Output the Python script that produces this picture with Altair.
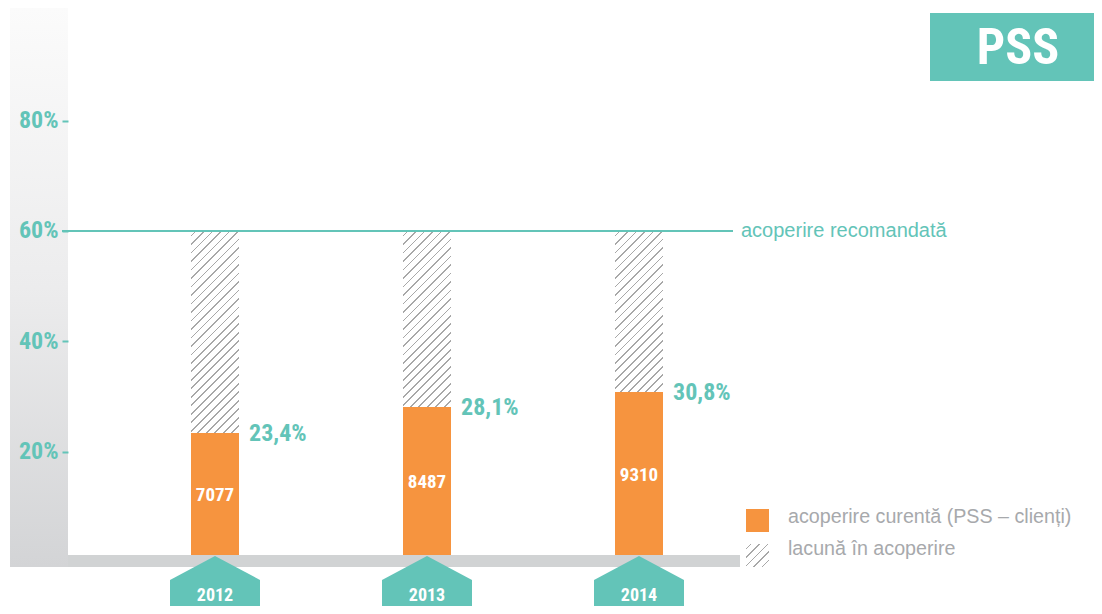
import math
import altair as alt
import pandas as pd

# ---------------- data ----------------
years = ["2012", "2013", "2014"]
coverage_pct = [23.4, 28.1, 30.8]          # current coverage (% of target)
clients = [7077, 8487, 9310]               # PSS clients
recommended_pct = 60                        # recommended coverage
y_ticks = [20, 40, 60, 80]
pct_labels = ["23,4%", "28,1%", "30,8%"]
recommended_label = "acoperire recomandată"
legend_labels = ["acoperire curentă (PSS – clienți)", "lacună în acoperire"]
badge_text = "PSS"

df = pd.DataFrame({
    "year": years,
    "pct": coverage_pct,
    "clients": [str(c) for c in clients],
    "label": pct_labels,
    "rec": [recommended_pct] * len(years),
})

# ---------------- style ----------------
TEAL = "#63C4B8"
ORANGE = "#F6943F"
BAND = "#D1D3D4"
LEG_TXT = "#A7A9AC"
NARROW = "Roboto Condensed, Liberation Sans Narrow, Roboto, sans-serif"
REG = "Liberation Sans, Arial, sans-serif"

W, H = 1086, 598
Y0 = 554.0           # pixel of 0 %
PX_PER = 5.517       # pixels per percentage point
y_scale = alt.Scale(domain=[0, 80], range=[Y0, Y0 - 80 * PX_PER], nice=False, zero=True)
x_scale = alt.Scale(domain=years, range=[101, 737], paddingInner=0, paddingOuter=0)
BAR_W = 48


def hatch(w, h, period=6.0, lw=1.2, line="#A8A8A8", bg="#FFFFFF"):
    L = (w + h) / math.sqrt(2)
    k = (w + h) / (w * w + h * h)
    stops = [{"offset": 0, "color": bg}]
    pos = period / 2
    while pos + lw < L:
        a = pos / L
        b = (pos + lw) / L
        stops += [
            {"offset": a, "color": bg},
            {"offset": a, "color": line},
            {"offset": b, "color": line},
            {"offset": b, "color": bg},
        ]
        pos += period
    stops.append({"offset": 1, "color": bg})
    return {"gradient": "linear", "x1": 0, "y1": 0, "x2": k * w, "y2": k * h, "stops": stops}


one = alt.Data(values=[{}])
base = alt.Chart(df)
X = alt.X("year:N", scale=x_scale, axis=None)

# left grey gradient band
left_band = alt.Chart(one).mark_rect(
    color={"gradient": "linear", "x1": 0, "y1": 0, "x2": 0, "y2": 1,
           "stops": [{"offset": 0, "color": "#FBFBFB"}, {"offset": 0.5, "color": "#ECECED"},
                     {"offset": 1, "color": "#D3D4D6"}]}
).encode(x=alt.value(2), x2=alt.value(60), y=alt.value(0), y2=alt.value(559))

# orange bars (carry the y axis)
bars = base.mark_bar(width=BAR_W, color=ORANGE).encode(
    x=X,
    y=alt.Y("pct:Q", scale=y_scale,
            axis=alt.Axis(values=y_ticks, labelExpr="datum.value + '%'", title=None,
                          domain=False, grid=False, offset=-60, tickSize=6, tickWidth=2,
                          tickColor=TEAL, labelColor=TEAL, labelFont=NARROW,
                          labelFontWeight="bold", labelFontSize=24, labelPadding=4,
                          zindex=1)),
)

# hatched gap layers (one per bar so the stripe angle stays 45°)
hatched = []
for yr, p in zip(years, coverage_pct):
    hpx = (recommended_pct - p) * PX_PER
    hatched.append(
        base.transform_filter(alt.datum.year == yr)
        .mark_bar(width=BAR_W, color=hatch(BAR_W, hpx))
        .encode(x=X, y=alt.Y("pct:Q", scale=y_scale), y2="rec:Q")
    )

# grey base band
base_band = alt.Chart(one).mark_rect(color=BAND).encode(
    x=alt.value(60), x2=alt.value(732), y=alt.value(547), y2=alt.value(559))

# recommended line + label
rec_df = pd.DataFrame({"rec": [recommended_pct], "txt": [recommended_label]})
rec_line = alt.Chart(rec_df).mark_rule(color=TEAL, strokeWidth=2).encode(
    y=alt.Y("rec:Q", scale=y_scale), x=alt.value(54), x2=alt.value(725))
rec_text = alt.Chart(rec_df).mark_text(
    color=TEAL, font=REG, fontSize=20, align="left", baseline="middle", dx=0
).encode(y=alt.Y("rec:Q", scale=y_scale), x=alt.value(733), text="txt:N")

# percentage labels
pct_text = base.mark_text(
    color=TEAL, font=NARROW, fontWeight="bold", fontSize=24, align="left",
    baseline="middle", dx=BAR_W / 2 + 10, dy=1
).encode(x=X, y=alt.Y("pct:Q", scale=y_scale), text="label:N")

# client counts inside bars
cnt_text = base.transform_calculate(mid="datum.pct / 2").mark_text(
    color="white", font=NARROW, fontWeight="bold", fontSize=19, baseline="middle", dy=-2
).encode(x=X, y=alt.Y("mid:Q", scale=y_scale), text="clients:N")

# year pentagons + labels
PENT = "M0,-0.533L1,0L1,1L-1,1L-1,0Z"
year_shape = base.mark_point(shape=PENT, size=8100, filled=True, color=TEAL,
                             opacity=1, strokeWidth=0).encode(x=X, y=alt.value(572))
year_text = base.mark_text(color="white", font=NARROW, fontWeight="bold", fontSize=18,
                           baseline="middle").encode(x=X, y=alt.value(588), text="year:N")

# badge
badge_box = alt.Chart(one).mark_rect(color=TEAL).encode(
    x=alt.value(922), x2=alt.value(1086), y=alt.value(5), y2=alt.value(73))
badge = alt.Chart(one).mark_text(
    text=badge_text, color="white", font=NARROW, fontWeight="bold", fontSize=50,
    align="center", baseline="middle"
).encode(x=alt.value(1010), y=alt.value(41))

# legend
leg_orange = alt.Chart(one).mark_rect(color=ORANGE).encode(
    x=alt.value(738), x2=alt.value(761), y=alt.value(501), y2=alt.value(524))
leg_hatch = alt.Chart(one).mark_rect(color=hatch(23, 23)).encode(
    x=alt.value(738), x2=alt.value(761), y=alt.value(536), y2=alt.value(559))
leg_t1 = alt.Chart(one).mark_text(
    text=legend_labels[0], color=LEG_TXT, font=REG, fontSize=19.7, align="left", baseline="middle"
).encode(x=alt.value(780), y=alt.value(509))
leg_t2 = alt.Chart(one).mark_text(
    text=legend_labels[1], color=LEG_TXT, font=REG, fontSize=19.7, align="left", baseline="middle"
).encode(x=alt.value(780), y=alt.value(541))

chart = alt.layer(
    left_band, bars, *hatched, base_band, rec_line, rec_text, pct_text, cnt_text,
    year_shape, year_text, badge_box, badge, leg_orange, leg_hatch, leg_t1, leg_t2,
).properties(
    width=W, height=H, padding=0, autosize=alt.AutoSizeParams(type="none"),
    background="white",
).configure_view(stroke=None)

chart.save("out.html", embed_options={"renderer": "svg", "actions": False})
